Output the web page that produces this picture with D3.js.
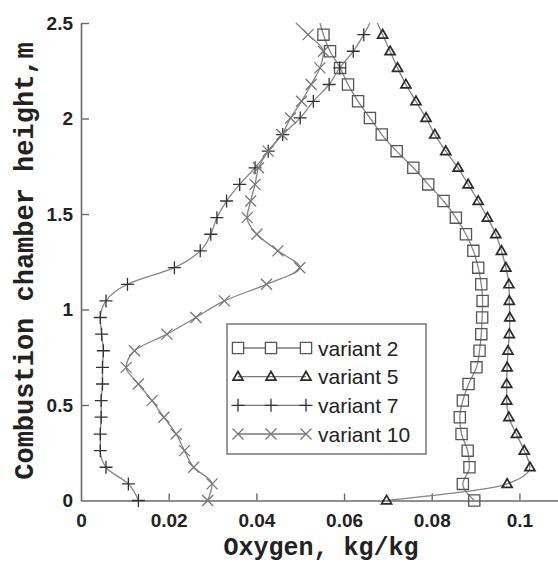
<!DOCTYPE html>
<html>
<head>
<meta charset="utf-8">
<script src="https://cdn.jsdelivr.net/npm/d3@7"></script>
<style>
  html, body { margin: 0; padding: 0; background: #fff; }
  svg { display: block; }
</style>
</head>
<body>
<svg id="chart" width="558" height="563"></svg>
<script>
// ---- data ----
const heights = [0, 0.087, 0.174, 0.261, 0.348, 0.436, 0.523, 0.610, 0.697, 0.784,
  0.871, 0.958, 1.045, 1.132, 1.219, 1.307, 1.394, 1.481, 1.568, 1.655,
  1.742, 1.829, 1.916, 2.003, 2.090, 2.178, 2.265, 2.352, 2.439, 2.5];
// last height (2.5) is the curve end without a marker
const variant2 = [0.0897, 0.0871, 0.0886, 0.0882, 0.0868, 0.0864, 0.0871, 0.0884, 0.0902, 0.0909,
  0.0913, 0.0915, 0.0916, 0.0913, 0.0906, 0.0895, 0.0878, 0.0855, 0.0827, 0.0792,
  0.0758, 0.0720, 0.0686, 0.0659, 0.0632, 0.0609, 0.0591, 0.0568, 0.0553, 0.0545];
const variant5 = [0.0697, 0.0972, 0.1024, 0.1011, 0.0993, 0.0976, 0.0971, 0.0971, 0.0972, 0.0974,
  0.0977, 0.0978, 0.0977, 0.0976, 0.0969, 0.0959, 0.0946, 0.0927, 0.0906, 0.0883,
  0.0860, 0.0832, 0.0807, 0.0787, 0.0764, 0.0741, 0.0722, 0.0705, 0.0688, 0.0676];
const variant7 = [0.0131, 0.0108, 0.0057, 0.0044, 0.0044, 0.0046, 0.0046, 0.0049, 0.0049, 0.0051,
  0.0047, 0.0044, 0.0057, 0.0106, 0.0213, 0.0272, 0.0296, 0.0310, 0.0332, 0.0362,
  0.0397, 0.0427, 0.0460, 0.0500, 0.0530, 0.0566, 0.0590, 0.0621, 0.0645, 0.0659];
const variant10 = [0.0289, 0.0299, 0.0257, 0.0236, 0.0217, 0.0189, 0.0162, 0.0131, 0.0103, 0.0122,
  0.0196, 0.0262, 0.0327, 0.0423, 0.0499, 0.0449, 0.0401, 0.0379, 0.0387, 0.0397,
  0.0405, 0.0427, 0.0458, 0.0478, 0.0503, 0.0525, 0.0545, 0.0553, 0.0518, 0.0490];
const seriesNames = ["variant 2", "variant 5", "variant 7", "variant 10"];
const xTickValues = [0, 0.02, 0.04, 0.06, 0.08, 0.1];
const xTickLabels = ["0", "0.02", "0.04", "0.06", "0.08", "0.1"];
const yTickValues = [0, 0.5, 1, 1.5, 2, 2.5];
const yTickLabels = ["0", "0.5", "1", "1.5", "2", "2.5"];

const series = [
  { name: seriesNames[0], values: variant2, marker: "square" },
  { name: seriesNames[1], values: variant5, marker: "triangle" },
  { name: seriesNames[2], values: variant7, marker: "plus" },
  { name: seriesNames[3], values: variant10, marker: "times" }
];

// ---- layout ----
const svg = d3.select("#chart");
const x = d3.scaleLinear().domain([0, 0.1088]).range([81, 558]);
const y = d3.scaleLinear().domain([0, 2.5]).range([500.5, 23]);

const axisColor = "#6a6a6a";
const tickFont = "'Liberation Sans Narrow', 'Arial Narrow', sans-serif";

// x axis
const gx = svg.append("g").attr("transform", `translate(0,${y(0)})`)
  .call(d3.axisBottom(x).tickValues(xTickValues)
    .tickFormat((d, i) => xTickLabels[i]).tickSize(-7).tickSizeOuter(0).tickPadding(13));
// y axis
const gy = svg.append("g").attr("transform", `translate(${x(0)},0)`)
  .call(d3.axisLeft(y).tickValues(yTickValues)
    .tickFormat((d, i) => yTickLabels[i]).tickSize(-8).tickSizeOuter(0).tickPadding(8));

[gx, gy].forEach(g => {
  g.select(".domain").attr("stroke", axisColor).attr("stroke-width", 1.6);
  g.selectAll(".tick line").attr("stroke", axisColor).attr("stroke-width", 1.4);
  g.selectAll(".tick text").attr("fill", "#222").style("font-family", tickFont)
    .style("font-weight", "bold").style("font-size", "19px");
});
gx.selectAll(".tick").filter(d => d === 0).select("line").remove();
gy.selectAll(".tick").filter(d => d === 0).select("line").remove();

// axis titles
svg.append("text")
  .attr("x", 321).attr("y", 555)
  .attr("text-anchor", "middle")
  .style("font-family", "'Liberation Mono', 'Courier New', monospace")
  .style("font-weight", "bold").style("font-size", "25px").attr("fill", "#222")
  .text("Oxygen, kg/kg");

svg.append("text")
  .attr("transform", "translate(33,261) rotate(-90)")
  .attr("text-anchor", "middle")
  .style("font-family", "'Liberation Mono', 'Courier New', monospace")
  .style("font-weight", "bold").style("font-size", "27px").attr("fill", "#222")
  .text("Combustion chamber height,m");

// ---- markers ----
const markerStyle = {
  square:   { stroke: "#555", width: 1.3 },
  triangle: { stroke: "#2a2a2a", width: 1.7 },
  plus:     { stroke: "#333", width: 1.3 },
  times:    { stroke: "#777", width: 1.3 }
};
function markerPath(type) {
  switch (type) {
    case "square": { const s = 5.6; return `M${-s},${-s}H${s}V${s}H${-s}Z`; }
    case "triangle": { const h = 8.6, w = 5; return `M0,${-h*0.6}L${w},${h*0.4}L${-w},${h*0.4}Z`; }
    case "plus": { const s = 6.5; return `M${-s},0H${s}M0,${-s}V${s}`; }
    case "times": { const s = 5.5; return `M${-s},${-s}L${s},${s}M${-s},${s}L${s},${-s}`; }
  }
}

const line = d3.line()
  .x(d => x(d.v)).y(d => y(d.h))
  .curve(d3.curveMonotoneY);

const plot = svg.append("g");
series.forEach(s => {
  const pts = s.values.map((v, i) => ({ v, h: heights[i] }));
  plot.append("path").datum(pts)
    .attr("d", line).attr("fill", "none")
    .attr("stroke", "#858585").attr("stroke-width", 1.3);
  const st = markerStyle[s.marker];
  plot.selectAll(null).data(pts.slice(0, pts.length - 1)).enter()
    .append("path")
    .attr("transform", d => `translate(${x(d.v)},${y(d.h)})`)
    .attr("d", markerPath(s.marker))
    .attr("fill", "none").attr("stroke", st.stroke).attr("stroke-width", st.width);
});

// ---- legend ----
const legend = svg.append("g");
legend.append("rect")
  .attr("x", 227).attr("y", 324).attr("width", 199).attr("height", 130)
  .attr("fill", "#fff").attr("stroke", "#777").attr("stroke-width", 1.5);
const legendRowY = d3.scalePoint().domain(seriesNames).range([348, 434]);
const legendMarkX = [238, 271, 306];
series.forEach(s => {
  const ly = legendRowY(s.name);
  const st = markerStyle[s.marker];
  legend.append("line")
    .attr("x1", legendMarkX[0]).attr("x2", legendMarkX[2])
    .attr("y1", ly).attr("y2", ly)
    .attr("stroke", "#777").attr("stroke-width", 1.3);
  legendMarkX.forEach(mx => {
    legend.append("path")
      .attr("transform", `translate(${mx},${ly})`)
      .attr("d", markerPath(s.marker))
      .attr("fill", s.marker === "square" ? "#fff" : "none")
      .attr("stroke", st.stroke).attr("stroke-width", st.width);
  });
  legend.append("text")
    .attr("x", 318).attr("y", ly).attr("dy", "0.36em")
    .style("font-family", "'Liberation Sans', Arial, sans-serif")
    .style("font-size", "21px").attr("fill", "#222")
    .text(s.name);
});
</script>
</body>
</html>
